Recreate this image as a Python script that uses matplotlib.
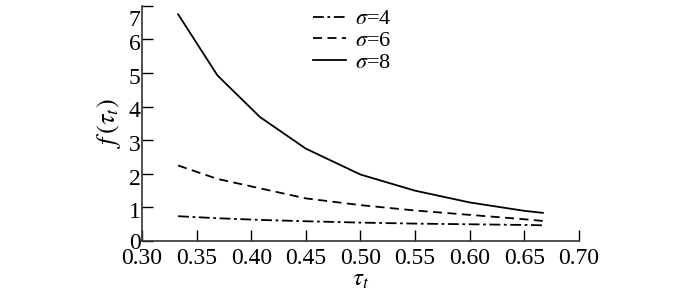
import numpy as np
import matplotlib.pyplot as plt
import matplotlib.transforms as mtransforms

plt.rcParams['font.family'] = 'Liberation Serif'
plt.rcParams['mathtext.fontset'] = 'stix'

tau = [0.333, 0.369, 0.408, 0.45, 0.50, 0.55, 0.60, 0.65, 0.667]
f_s4 = [0.74, 0.68, 0.63, 0.59, 0.55, 0.52, 0.50, 0.48, 0.47]
f_s6 = [2.25, 1.85, 1.57, 1.27, 1.07, 0.91, 0.78, 0.65, 0.60]
f_s8 = [6.75, 4.93, 3.69, 2.75, 1.98, 1.50, 1.15, 0.90, 0.84]

fig = plt.figure(figsize=(7, 2.94), dpi=100)
ax = fig.add_axes([0.203, 0.18, 0.624, 0.80])

ax.plot(tau, f_s4, color='black', lw=1.3, linestyle=(0, (6, 2, 1.5, 2)), label=r'$\sigma$=4')
ax.plot(tau, f_s6, color='black', lw=1.3, linestyle=(0, (5, 3)), label=r'$\sigma$=6')
ax.plot(tau, f_s8, color='black', lw=1.3, linestyle='-', label=r'$\sigma$=8')

xt = np.arange(0.30, 0.701, 0.05)
ax.set_xlim(0.30, 0.70)
ax.set_ylim(0, 7)
ax.set_xticks(xt)
ax.set_xticklabels([f"{t:.2f}" for t in xt])
ax.set_yticks(range(0, 8))
ax.tick_params(direction='in', length=8, labelsize=17, width=1)
ax.tick_params(axis='x', pad=5)
ax.tick_params(axis='y', pad=1)
ax.spines['top'].set_visible(False)
ax.spines['right'].set_visible(False)
for s in ['left', 'bottom']:
    ax.spines[s].set_linewidth(1.2)
    ax.spines[s].set_color('#333333')

# y labels sit a little below their ticks, the top one more so
for lab in ax.get_yticklabels():
    t = lab.get_text()
    dy = -9 / 72 if t == '7' else (0 if t == '0' else -2 / 72)
    lab.set_transform(lab.get_transform() +
                      mtransforms.ScaledTranslation(0, dy, fig.dpi_scale_trans))

ax.set_xlabel(r'$\tau_t$', fontsize=18, labelpad=0)
ax.set_ylabel(r'$f\,(\tau_t)$', fontsize=19, labelpad=4)

ax.legend(loc='upper left', bbox_to_anchor=(0.37, 1.025), frameon=False,
          fontsize=16, handlelength=1.5, handletextpad=0.4, labelspacing=0.05,
          borderaxespad=0)

fig.savefig('out.png', dpi=100)
